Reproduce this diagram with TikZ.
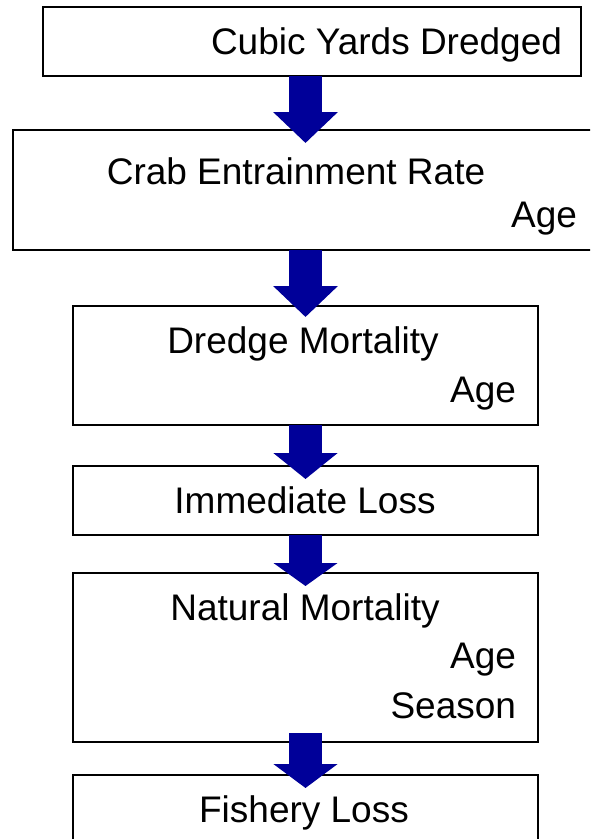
\documentclass[tikz,border=0pt]{standalone}
\usepackage{fontspec}
\setmainfont{Liberation Sans}
\usetikzlibrary{arrows.meta,calc}
\definecolor{arrowblue}{RGB}{0,0,153}
\begin{document}
\begin{tikzpicture}[x=1pt,y=-1pt,
  box/.style={draw=black, line width=2.2pt, inner sep=0pt, outer sep=0pt},
  thickbox/.style={box, line width=2.7pt},
  lbl/.style={inner sep=0pt, outer sep=0pt, font=\fontsize{37}{44}\selectfont},
  flow/.style={line width=33pt, draw=arrowblue, -{Triangle[width=63pt,length=#1]}}
]
\clip (0,0) rectangle (590,839);
\fill[white] (0,0) rectangle (590,839);

% boxes
\node[thickbox, minimum width=538pt, minimum height=69pt] (b1) at (312,41.5) {};
\node[thickbox, minimum width=585pt, minimum height=120pt] (b2) at (305.5,190) {};
\node[box, minimum width=465pt, minimum height=119pt] (b3) at (305.5,365.5) {};
\node[box, minimum width=465pt, minimum height=69pt] (b4) at (305.5,500.5) {};
\node[box, minimum width=465pt, minimum height=169pt] (b5) at (305.5,657.5) {};
\node[box, minimum width=465pt, minimum height=95pt] (b6) at (305.5,822.5) {};

% block arrows
\draw[flow=31pt] (b1.south -| b2.north) -- ($(b2.north)+(0,13)$);
\draw[flow=31pt] (b2.south) -- ($(b3.north)+(0,11)$);
\draw[flow=26pt] (b3.south) -- ($(b4.north)+(0,13)$);
\draw[flow=23pt] (b4.south) -- ($(b5.north)+(0,13)$);
\draw[flow=24pt] ($(b5.south)+(0,-9)$) -- ($(b6.north)+(0,13)$);

% labels
\node[lbl, anchor=base east] (t1) at (562,54) {Cubic Yards Dredged};
\node[lbl, anchor=base] (t2a) at (296,184) {Crab Entrainment Rate};
\node[lbl, anchor=base east] (t2b) at (577,227) {Age};
\node[lbl, anchor=base] (t3a) at (303,353) {Dredge Mortality};
\node[lbl, anchor=base east] (t3b) at (516,402) {Age};
\node[lbl, anchor=base] (t4) at (305,513) {Immediate Loss};
\node[lbl, anchor=base] (t5a) at (305,620) {Natural Mortality};
\node[lbl, anchor=base east] (t5b) at (516,668) {Age};
\node[lbl, anchor=base east] (t5c) at (516,718) {Season};
\node[lbl, anchor=base] (t6) at (304,822) {Fishery Loss};
\end{tikzpicture}
\end{document}
